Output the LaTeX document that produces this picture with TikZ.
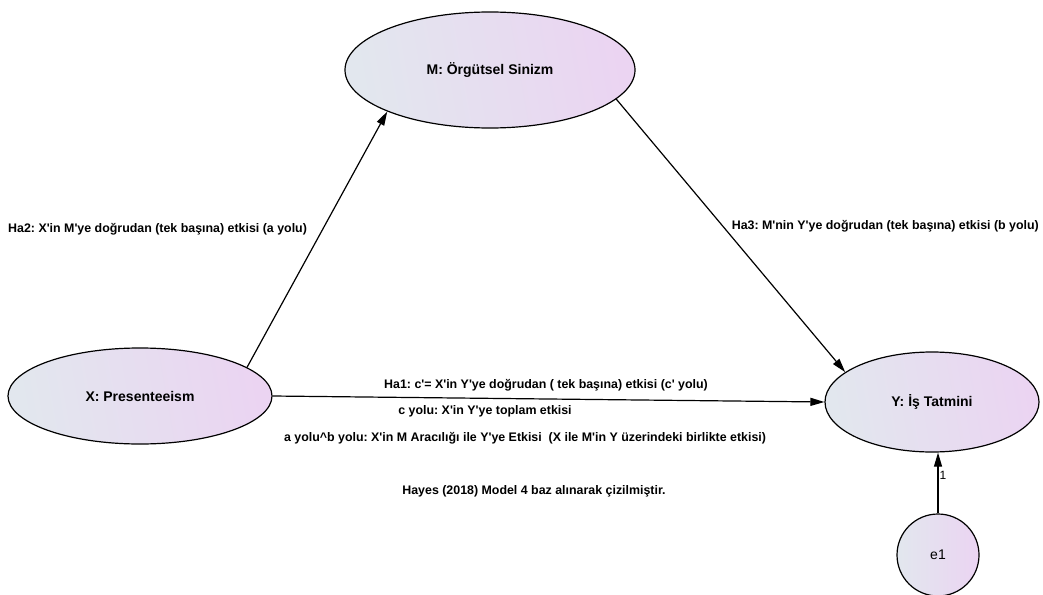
\documentclass[tikz,border=0pt]{standalone}
\usepackage{fontspec}
\setmainfont{Liberation Sans}
\usetikzlibrary{arrows.meta,shapes.geometric}
\definecolor{gradL}{HTML}{E2E7EE}
\definecolor{gradR}{HTML}{EBD4F2}
\newcommand{\ap}{\textquotesingle}
\frenchspacing
\tikzset{
  var/.style={ellipse, draw=black, line width=1.2pt, left color=gradL, right color=gradR, shading angle=100, inner sep=0pt, font=\bfseries\fontsize{14}{16}\selectfont},
  errv/.style={circle, draw=black, line width=1.2pt, left color=gradL, right color=gradR, inner sep=0pt, font=\fontsize{14}{16}\selectfont},
  path/.style={line width=1.2pt, -{Triangle[length=14pt,width=8pt]}},
  lbl/.style={font=\bfseries\fontsize{12.4}{14}\selectfont, inner sep=0pt}
}
\begin{document}
\begin{tikzpicture}[x=1pt,y=-1pt]
\useasboundingbox (0,0) rectangle (1043,594);
\node[var, minimum width=290, minimum height=116] (M) at (490,70) {M: Örgütsel Sinizm};
\node[var, minimum width=264, minimum height=96] (X) at (140,396) {X: Presenteeism};
\node[var, minimum width=214, minimum height=100] (Y) at (932,402) {Y: İş Tatmini};
\node[errv, minimum size=82] (e1) at (938,555) {e1};
\draw[path] (X.15) -- (M.202);
\draw[path] (M.347) -- (Y.161);
\draw[path] (X.east) -- (Y.west);
\draw[path] (e1.north) -- node[right, pos=0.62, inner sep=1pt, font=\fontsize{12}{14}\selectfont] (one) {1} (Y.south -| e1.north);
\node[lbl, anchor=west] (ha2) at (8,229) {Ha2: X\ap in M\ap ye doğrudan (tek başına) etkisi (a yolu)};
\node[lbl, anchor=east] (ha3) at (1039,226) {Ha3: M\ap nin Y\ap ye doğrudan (tek başına) etkisi (b yolu)};
\node[lbl] (ha1) at (546,385) {Ha1: c\ap = X\ap in Y\ap ye doğrudan ( tek başına) etkisi (c\ap\ yolu)};
\node[lbl] (cyol) at (485,411) {c yolu: X\ap in Y\ap ye toplam etkisi};
\node[lbl] (ab) at (525,438) {a yolu\^{}b yolu: X\ap in M Aracılığı ile Y\ap ye Etkisi \ (X ile M\ap in Y üzerindeki birlikte etkisi)};
\node[lbl] (hayes) at (534,491) {Hayes (2018) Model 4 baz alınarak çizilmiştir.};
\end{tikzpicture}
\end{document}
